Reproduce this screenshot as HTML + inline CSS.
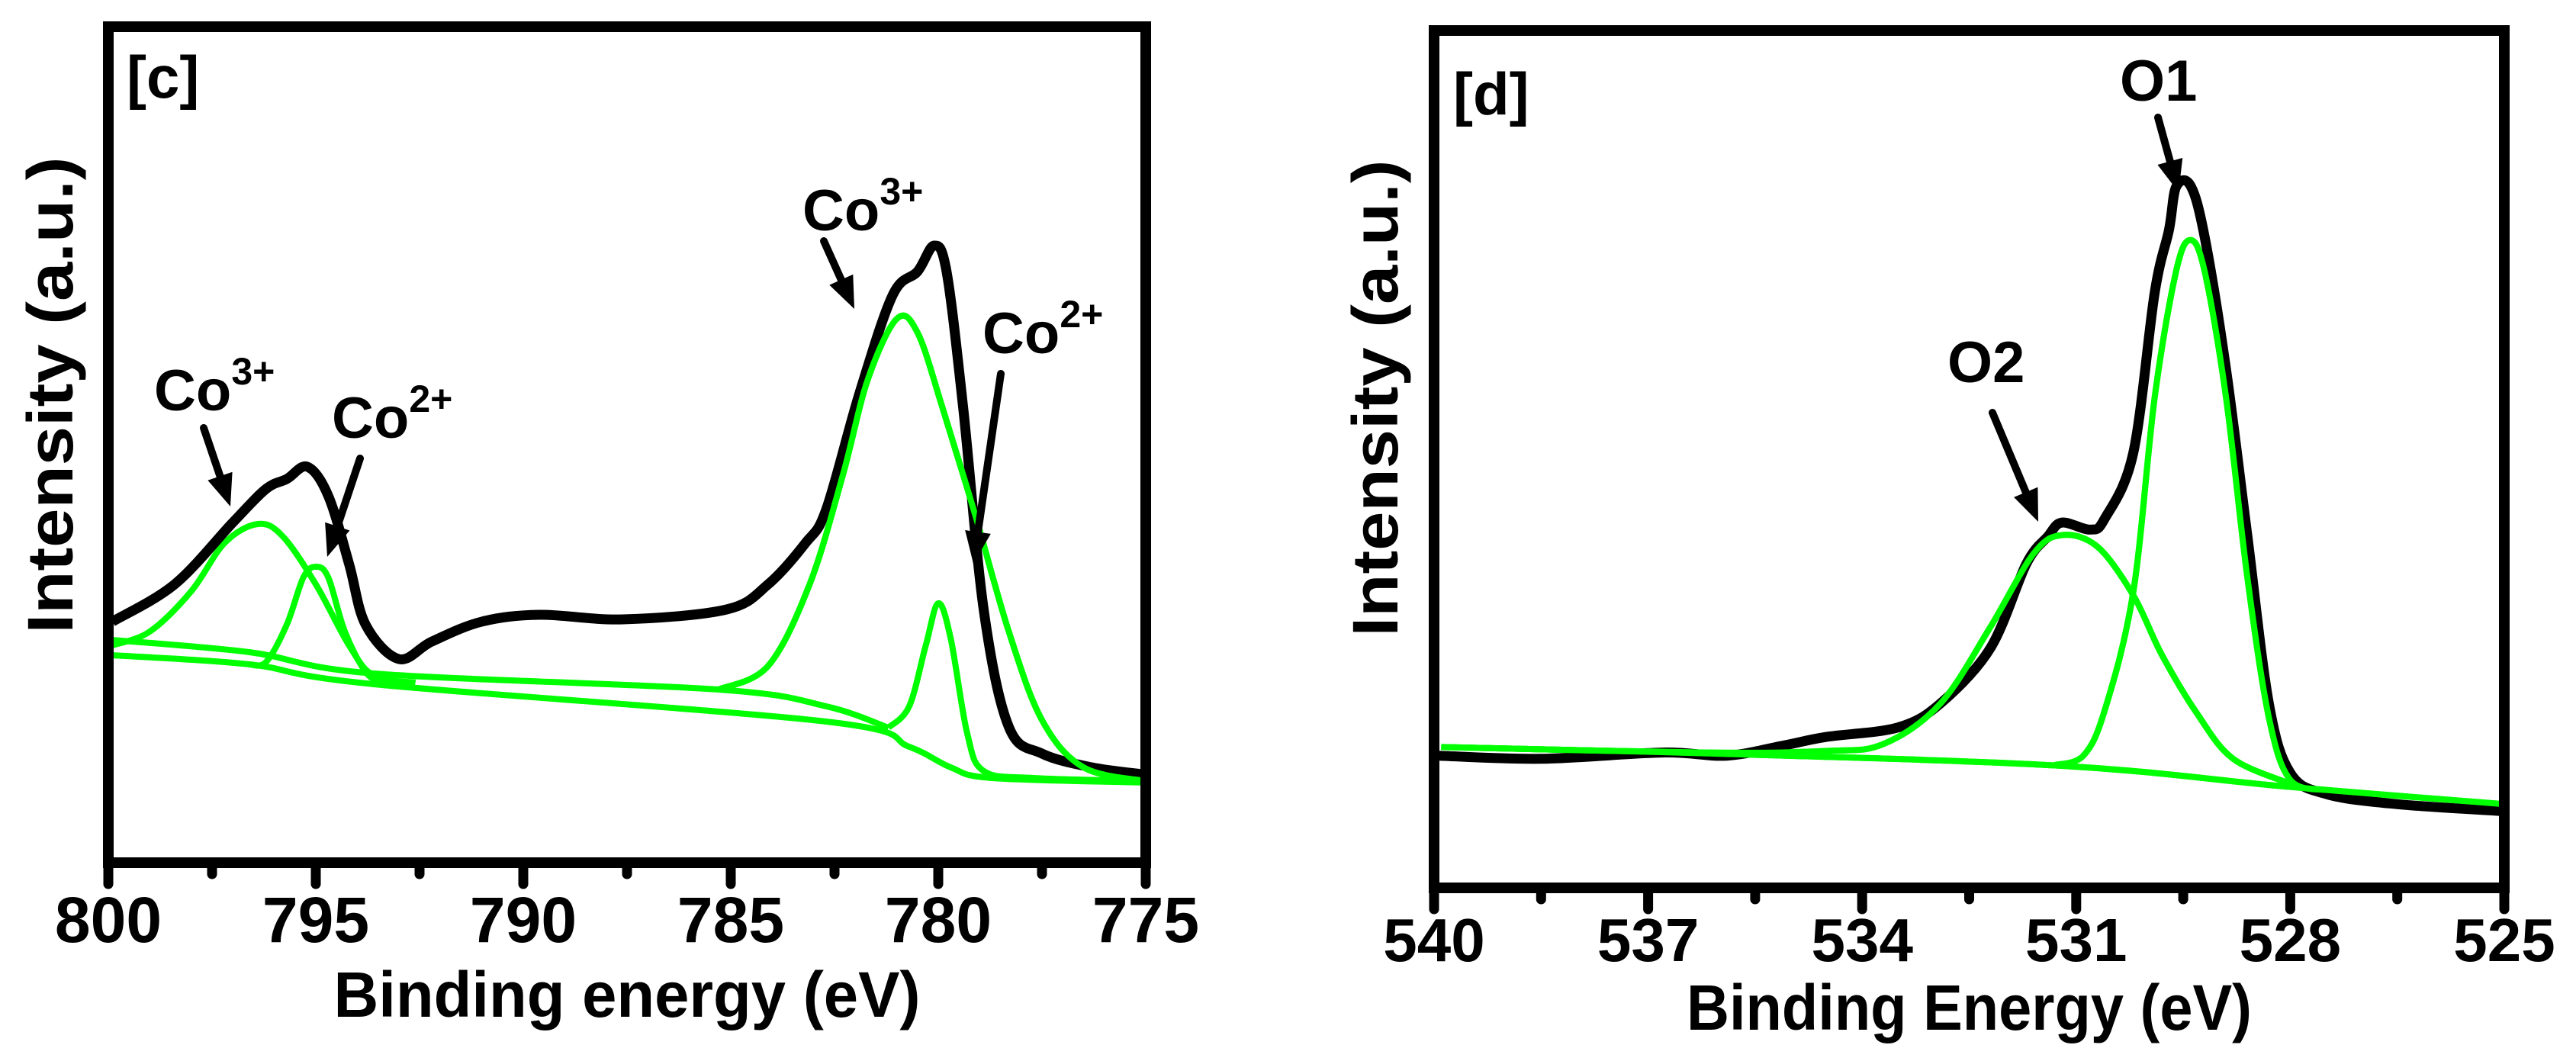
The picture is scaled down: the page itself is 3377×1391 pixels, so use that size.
<!DOCTYPE html>
<html><head><meta charset="utf-8"><style>
html,body{margin:0;padding:0;background:#fff;}
svg{display:block;font-family:"Liberation Sans",Arial,sans-serif;font-weight:bold;}
</style></head><body>
<svg id="chart" width="3377" height="1391" viewBox="0 0 3377 1391" xmlns="http://www.w3.org/2000/svg">
<g id="panelC"></g>
<g id="panelD"></g>
</svg>
<script>
// ---- Panel C data (Co 2p) : energy (eV), intensity (a.u.)
const cTicks = [800, 795, 790, 785, 780, 775];
const cBlackE = [799.9,798.4,797.0,796.2,795.7,795.2,794.7,794.2,793.8,793.0,792.2,791.0,789.6,787.6,785.1,784.1,783.2,782.7,781.9,781.1,780.5,780.1,779.8,779.4,778.9,778.3,777.5,776.3,775.1];
const cBlackI = [316,365,446,490,503,519,481,392,312,267,290,316,325,319,332,365,419,463,615,744,775,809,775,597,330,178,143,125,116];
const cBg1E = [799.9,796.6,793.6,785.3,782.7,781.2];
const cBg1I = [292,276,248,227,205,177];
const cBg2E = [799.9,796.6,793.6,782.7,780.7,779.7,778.7,775.0];
const cBg2I = [272,260,234,185,152,125,111,105];
const cP1E = [799.9,799.0,798.0,797.2,796.4,795.8,795.0,794.2,793.6,792.6];
const cP1I = [285,303,356,419,444,428,365,285,245,236];
const cP2E = [796.6,796.2,795.7,795.3,795.0,794.7,794.3,793.8,793.4];
const cP2I = [260,263,312,374,388,374,303,250,236];
const cP3E = [785.3,784.1,783.1,782.3,781.7,781.0,780.5,779.9,779.1,778.3,777.5,776.5,775.0];
const cP3I = [227,258,365,508,633,713,695,597,454,303,187,125,107];
const cP4E = [781.2,780.7,780.3,780.0,779.7,779.3,778.9,777.7,775.0];
const cP4I = [177,205,285,340,294,169,120,111,107];

// ---- Panel D data (O 1s)
const dTicks = [540, 537, 534, 531, 528, 525];
const dBlackE = [539.94,538.5,536.8,535.9,535.1,534.5,533.5,532.9,532.2,531.7,531.4,531.2,530.8,530.6,530.2,529.9,529.7,529.6,529.4,529.2,528.9,528.6,528.3,528.0,527.5,526.5,525.0];
const dBlackI = [169,165,173,169,182,193,205,236,307,414,449,467,458,472,556,761,841,896,898,832,663,449,236,147,120,107,98];
const dBgE = [539.9,536.2,531.2,528.0,525.0];
const dBgI = [180,172,156,129,107];
const dO2E = [539.9,536.2,534.5,533.7,532.9,532.2,531.6,531.2,530.7,530.2,529.8,529.3,528.8,528.0];
const dO2I = [180,173,175,184,236,334,427,451,436,374,298,222,165,133];
const dO1E = [531.3,530.9,530.6,530.2,529.9,529.6,529.4,529.2,528.9,528.6,528.3,528.0,527.5];
const dO1I = [157,169,227,378,627,788,828,788,627,396,218,138,125];

const NS = 'http://www.w3.org/2000/svg';
function mk(parent, tag, attrs){const e=document.createElementNS(NS,tag);for(const k in attrs)e.setAttribute(k,attrs[k]);parent.appendChild(e);return e;}
function smoothPath(pts){
  let d='M'+pts[0][0].toFixed(1)+','+pts[0][1].toFixed(1);
  for(let i=0;i<pts.length-1;i++){
    const p0=pts[i-1]||pts[i],p1=pts[i],p2=pts[i+1],p3=pts[i+2]||p2;
    const c1=[p1[0]+(p2[0]-p0[0])/6,p1[1]+(p2[1]-p0[1])/6];
    const c2=[p2[0]-(p3[0]-p1[0])/6,p2[1]-(p3[1]-p1[1])/6];
    d+=' C'+c1[0].toFixed(1)+','+c1[1].toFixed(1)+' '+c2[0].toFixed(1)+','+c2[1].toFixed(1)+' '+p2[0].toFixed(1)+','+p2[1].toFixed(1);
  }
  return d;
}
function panel(g, cfg){
  const {x0,x1,y0,y1,eMax,eMin,tickFont,titleW,labelY,labelX}=cfg;
  const xs=e=>x0+(eMax-e)/(eMax-eMin)*(x1-x0);
  const ys=v=>y1-v*(y1-y0)/1096;
  const clipId=cfg.id+'clip';
  const defs=mk(g,'defs',{});
  const cp=mk(defs,'clipPath',{id:clipId});
  mk(cp,'rect',{x:x0,y:y0,width:x1-x0,height:y1-y0});
  const series=mk(g,'g',{'clip-path':'url(#'+clipId+')'});
  cfg.greens.forEach(s=>{
    const p=mk(series,'path',{d:smoothPath(s.E.map((e,i)=>[xs(e),ys(s.I[i])])),fill:'none',stroke:'#00ff00','stroke-width':8,'stroke-linejoin':'round'});
    
    
  });
  const b=mk(series,'path',{d:smoothPath(cfg.bE.map((e,i)=>[xs(e),ys(cfg.bI[i])])),fill:'none',stroke:'#000','stroke-width':13,'stroke-linejoin':'round'});
  
  
  cfg.greens.filter(s=>s.top).forEach(s=>{
    const p=mk(series,'path',{d:smoothPath(s.E.map((e,i)=>[xs(e),ys(s.I[i])])),fill:'none',stroke:'#00ff00','stroke-width':8});
    
    
  });
  const ticks=mk(g,'g',{});
  
  
  cfg.ticks.forEach((t,i)=>{
    const x=xs(t);
    mk(ticks,'line',{x1:x,y1:y1,x2:x,y2:y1+28,stroke:'#000','stroke-width':13,'stroke-linecap':'round'});
    const tx=mk(ticks,'text',{x:x,y:cfg.tickBase,'font-size':tickFont,'text-anchor':'middle'});
    tx.textContent=t;
    
    
    if(i<cfg.ticks.length-1){
      const xm=xs((t+cfg.ticks[i+1])/2);
      mk(ticks,'line',{x1:xm,y1:y1,x2:xm,y2:y1+15,stroke:'#000','stroke-width':13,'stroke-linecap':'round'});
    }
  });
  const fr=mk(g,'rect',{x:x0,y:y0,width:x1-x0,height:y1-y0,fill:'none',stroke:'#000','stroke-width':14});
  
  
  const xt=mk(g,'text',{x:(x0+x1)/2,y:cfg.titleBase,'font-size':84,'text-anchor':'middle',textLength:titleW,lengthAdjust:'spacingAndGlyphs'});
  xt.textContent=cfg.xTitle;
  
  
  const yt=mk(g,'text',{x:0,y:0,'font-size':84,'text-anchor':'middle',transform:'translate('+labelX+','+labelY+') rotate(-90)',textLength:625,lengthAdjust:'spacingAndGlyphs'});
  yt.textContent='Intensity (a.u.)';
  
  
  const pl=mk(g,'text',{x:cfg.tag[0],y:cfg.tag[1],'font-size':78});
  pl.textContent=cfg.tagText;
  
  
  cfg.notes.forEach(n=>{
    const t=mk(g,'text',{x:n.x,y:n.y,'font-size':76});
    t.textContent=n.main;
    if(n.sup){const s=mk(t,'tspan',{'font-size':50,dy:-34});s.textContent=n.sup;}
    
    
    const a=n.a; const dx=a[2]-a[0], dy=a[3]-a[1], L=Math.hypot(dx,dy), ux=dx/L, uy=dy/L;
    const hx=a[2]-ux*42, hy=a[3]-uy*42;
    const ar=mk(g,'g',{});
    
    
    mk(ar,'line',{x1:a[0],y1:a[1],x2:hx,y2:hy,stroke:'#000','stroke-width':10,'stroke-linecap':'round'});
    mk(ar,'polygon',{points:a[2]+','+a[3]+' '+(hx-uy*17)+','+(hy+ux*17)+' '+(hx+uy*17)+','+(hy-ux*17),fill:'#000'});
  });
}
panel(document.getElementById('panelC'),{id:'c',x0:142,x1:1502,y0:35,y1:1131,eMax:800,eMin:775,ticks:cTicks,tickFont:84,tickBase:1235,titleBase:1333,titleW:769,xTitle:'Binding energy (eV)',labelX:95,labelY:518,tag:[166,128],tagText:'[c]',
  bE:cBlackE,bI:cBlackI,
  greens:[{name:'background-1',E:cBg1E,I:cBg1I},{name:'background-2',E:cBg2E,I:cBg2I},{name:'co3-peak-796',E:cP1E,I:cP1I},{name:'co2-peak-795',E:cP2E,I:cP2I},{name:'co3-peak-781',E:cP3E,I:cP3I,top:true},{name:'co2-peak-780',E:cP4E,I:cP4I}],
  notes:[{x:202,y:538,main:'Co',sup:'3+',a:[267,561,302,664]},{x:435,y:574,main:'Co',sup:'2+',a:[472,601,429,730]},{x:1052,y:302,main:'Co',sup:'3+',a:[1080,316,1120,405]},{x:1288,y:463,main:'Co',sup:'2+',a:[1312,490,1276,739]}]});
panel(document.getElementById('panelD'),{id:'d',x0:1880,x1:3283,y0:40,y1:1164,eMax:540,eMin:525,ticks:dTicks,tickFont:80,tickBase:1260,titleBase:1350,titleW:741,xTitle:'Binding Energy (eV)',labelX:1832,labelY:522,tag:[1905,150],tagText:'[d]',
  bE:dBlackE,bI:dBlackI,
  greens:[{name:'background',E:dBgE,I:dBgI,top:true},{name:'o2-peak',E:dO2E,I:dO2I,top:true},{name:'o1-peak',E:dO1E,I:dO1I,top:true}],
  notes:[{x:2779,y:132,main:'O1',a:[2829,154,2856,252]},{x:2553,y:501,main:'O2',a:[2612,541,2672,684]}]});
</script>
</body></html>
